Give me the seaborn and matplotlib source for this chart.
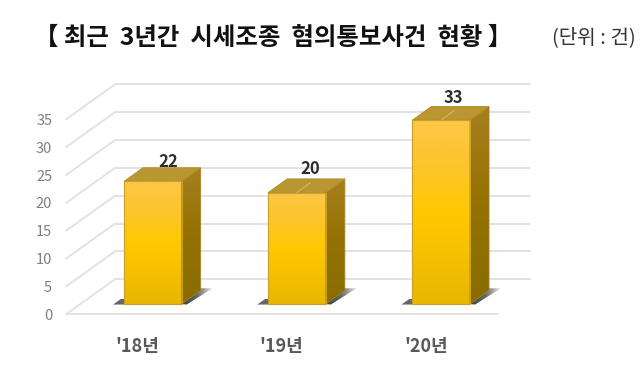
import numpy as np
import pandas as pd
import matplotlib
matplotlib.use("Agg")
import matplotlib.pyplot as plt
from matplotlib.colors import LinearSegmentedColormap
from matplotlib.patches import Polygon
from matplotlib.transforms import ScaledTranslation
import seaborn as sns

years = ["'18년", "'19년", "'20년"]
counts = [22, 20, 33]
y_ticks = [0, 5, 10, 15, 20, 25, 30, 35]
title = "【 최근  3년간  시세조종  혐의통보사건  현황 】"
unit = "(단위 : 건)"

W, H = 640, 365
PX_X = 144.2      # pixels per category
PX_Y = 5.57       # pixels per unit
sns.set_theme(style="white")
plt.rcParams['font.family'] = ['Noto Sans CJK KR', 'DejaVu Sans']

fig = plt.figure(figsize=(W / 100, H / 100), dpi=100, facecolor="white")
ax = fig.add_axes([66 / W, 1 - 314.3 / H, 464 / W, 230.3 / H])
ax.patch.set_visible(False)

BASE = 10.3 / PX_Y
DX, DY = 19 / PX_X, 13.7 / PX_Y
WALL_X, WALL_Y = 49 / PX_X, 35 / PX_Y
BAR_W = 57.7 / PX_X
XL = (66 - 152.8) / PX_X
XR = (530 - 152.8) / PX_X
XF = (498 - 152.8) / PX_X

df = pd.DataFrame({"year": years, "count": counts})
sns.barplot(data=df, x="year", y="count", ax=ax, width=BAR_W, bottom=BASE,
            color="#ffc800", saturation=1, zorder=3, linewidth=0)
ax.set_xlim(XL, XR)
ax.set_ylim(0, 230.3 / PX_Y)

grid = dict(color="#e2e2e2", lw=1.4, zorder=1, clip_on=False, solid_capstyle="round")
for v in y_ticks:
    ax.plot([XL, XL + WALL_X], [v, v + WALL_Y], **grid)
    ax.plot([XL + WALL_X, XR], [v + WALL_Y, v + WALL_Y], **grid)
ax.plot([XL, XF], [0, 0], **grid)

front = LinearSegmentedColormap.from_list("f", ["#e8b600", "#f5c000", "#ffc900", "#fdc52c", "#fdc746"])
side = LinearSegmentedColormap.from_list("s", ["#8a6c00", "#937200", "#a87f20"])
shadow = LinearSegmentedColormap.from_list("d", ["#3c3c3c", "#6a6a6a", "#e8e8e8"])
grad = np.linspace(0, 1, 128).reshape(-1, 1)

label_off = [(15, 19.5), (13, 24), (12, 22)]
seams = [False, True, True]
for bar, val, off, seam in zip(ax.patches, counts, label_off, seams):
    x0, x1 = bar.get_x(), bar.get_x() + bar.get_width()
    y0, y1 = bar.get_y(), bar.get_y() + bar.get_height()
    # floor shadow
    sh = Polygon([(x1, y0), (x1 + DX, y0 + DY * 1.15), (x1 + DX + 12 / PX_X, y0 + DY * 1.15),
                  (x1 + 5 / PX_X, y0 - 0.1)], fc="none", ec="none", zorder=2)
    ax.add_patch(sh)
    ims = ax.imshow(np.linspace(0, 1, 64).reshape(1, -1), cmap=shadow,
                    extent=(x1, x1 + DX + 12 / PX_X, y0 - 0.1, y0 + DY * 1.15),
                    origin="lower", aspect="auto", zorder=2)
    ims.set_clip_path(sh)
    ax.add_patch(Polygon([(x0 - 11 / PX_X, y0 - 0.1), (x0 - 3 / PX_X, y0 + 0.9), (x0 + 2 / PX_X, y0 + 0.9),
                          (x0 + 2 / PX_X, y0 - 0.1)], fc="#666666", ec="none", zorder=2))
    # front gradient
    bar.set_facecolor("none")
    im = ax.imshow(grad, cmap=front, extent=(x0, x1, y0, y1), origin="lower", aspect="auto", zorder=4)
    im.set_clip_path(bar)
    ax.add_patch(Polygon([(x0, y0), (x1, y0), (x1, y1), (x0, y1)], fc="none", ec="#c79f2a", lw=0.8, zorder=5))
    # right side
    sp = Polygon([(x1, y0), (x1 + DX, y0 + DY), (x1 + DX, y1 + DY), (x1, y1)], fc="none", ec="#a88422", lw=0.6, zorder=4)
    ax.add_patch(sp)
    im2 = ax.imshow(grad, cmap=side, extent=(x1, x1 + DX, y0, y1 + DY), origin="lower", aspect="auto", zorder=3.5)
    im2.set_clip_path(sp)
    # top face
    ax.add_patch(Polygon([(x0, y1), (x1, y1), (x1 + DX, y1 + DY), (x0 + DX, y1 + DY)],
                         fc="#ba9630", ec="#b08a28", lw=0.6, zorder=4))
    if seam:
        xm = (x0 + x1) / 2
        ax.plot([xm, xm + DX * 0.7], [y1, y1 + DY * 0.72], color="#cdb878", lw=0.8, zorder=4.5)
    ax.annotate(str(val), ((x0 + x1) / 2, y1), xytext=(off[0], off[1]), textcoords="offset pixels",
                ha="center", va="center", fontsize=12, fontweight="bold", color="#2e2e2e",
                zorder=6, annotation_clip=False)

ax.set_xlim(XL, XR)
ax.set_ylim(0, 230.3 / PX_Y)
ax.set_xlabel("")
ax.set_ylabel("")
ax.set_yticks(y_ticks)
ax.tick_params(axis="y", length=0, pad=10, labelsize=10.5, labelcolor="#7f7f7f")
ax.tick_params(axis="x", length=0, pad=16, labelsize=13, labelcolor="#595959")
for t in ax.get_xticklabels():
    t.set_fontweight("bold")
    t.set_transform(t.get_transform() + ScaledTranslation(-15.5 / 100, 0, fig.dpi_scale_trans))
sns.despine(ax=ax, left=True, bottom=True, right=True, top=True)

fig.text(273.5 / W, 1 - 37.5 / H, title, ha="center", va="center", fontsize=17.6, fontweight="bold", color="#111111")
fig.text(593.5 / W, 1 - 38 / H, unit, ha="center", va="center", fontsize=14.5, color="#333333")

fig.savefig("out.png", dpi=100, facecolor="white")
